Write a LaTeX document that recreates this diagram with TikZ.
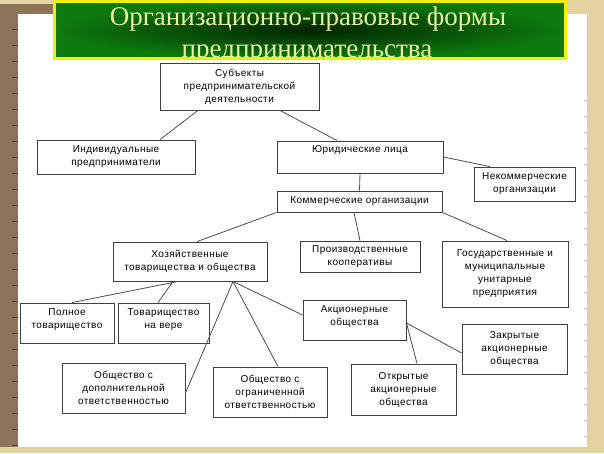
\documentclass[tikz,border=0pt]{standalone}
\usepackage{fontspec}
\setmainfont[LetterSpace=4.5]{Liberation Sans}
\newfontfamily\titlefont{Liberation Serif}
\usetikzlibrary{positioning,calc}

\definecolor{strip}{HTML}{8B7457}
\definecolor{paper}{HTML}{E4D3A2}
\definecolor{titlegreen}{HTML}{0E7A0E}
\definecolor{titledark}{HTML}{002400}
\definecolor{titleyellow}{HTML}{F0F000}
\definecolor{titletext}{HTML}{E8F2A2}

\begin{document}
\begin{tikzpicture}[x=1pt, y=-1pt,
        box/.style={rectangle, draw=black!75, line width=0.9pt, fill=white, align=center, inner sep=1pt, font=\fontsize{10}{13}\selectfont},
        link/.style={draw=black!70, line width=0.8pt},
        titlebox/.style={rectangle, inner sep=0pt, minimum width=511, minimum height=57, inner color=titledark, outer color=titlegreen},
        titleline/.style={inner sep=0pt, anchor=base, text=titletext, font=\titlefont\fontsize{27}{32}\selectfont},
      ]
      \useasboundingbox (0,0) rectangle (604,453);
      % background
      \fill [paper] (0,0) rectangle (604,453);
      \fill [strip] (0,4) rectangle (18,447);
      \fill [strip] (0,4) rectangle (53,14);
      \fill [white] (18,14) rectangle (587,447);
      \foreach \ty in {29,45,...,445}
        \draw [black!70, line width=0.8pt] (12,\ty) -- (18,\ty);
      \foreach \ty in {100,116,...,440}
        \draw [black!20, line width=0.6pt] (584,\ty) -- (588,\ty);

      % title
      \node [titlebox] (title) at (310,30) {};
      \begin{scope}
        \clip (title.north west) rectangle (title.south east);
        \node [titleline] (titleA) at (308,25) {Организационно-правовые формы};
        \node [titleline] (titleB) at (307,57) {предпринимательства};
      \end{scope}
      \draw [titleyellow, line width=3pt] (title.north west) rectangle (title.south east);

      % subjects
      \node [box, minimum width=159, minimum height=47] (subj) at (239.5,86.5) {Субъекты\\предпринимательской\\деятельности};
      \node [box, minimum width=158, minimum height=34] (indiv) at (116,157) {Индивидуальные\\предприниматели};
      \node [box, minimum width=166, minimum height=32, text depth=16pt] (jur) at (360,157) {Юридические лица};
      \node [box, minimum width=101, minimum height=34] (noncomm) at (524.5,184) {Некоммерческие\\организации};
      \node [box, minimum width=165, minimum height=21] (comm) at (359.5,201.5) {Коммерческие организации};

      % commercial organisations
      \node [box, minimum width=154, minimum height=39] (hoz) at (190,261.5) {Хозяйственные\\товарищества и общества};
      \node [box, minimum width=120, minimum height=31] (coop) at (360,256.5) {Производственные\\кооперативы};
      \node [box, minimum width=126, minimum height=66] (unit) at (505,274) {Государственные и\\муниципальные\\унитарные\\предприятия};

      % partnerships and companies
      \node [box, minimum width=94, minimum height=40, text depth=8pt] (full) at (67,323) {Полное\\товарищество};
      \node [box, minimum width=91, minimum height=40, text depth=8pt] (faith) at (163.5,323) {Товарищество\\на вере};
      \node [box, minimum width=123, minimum height=50] (odo) at (123.5,388) {Общество с\\дополнительной\\ответственностью};
      \node [box, minimum width=114, minimum height=50] (ooo) at (270,392) {Общество с\\ограниченной\\ответственностью};
      \node [box, minimum width=103, minimum height=40, text depth=8pt] (ao) at (354.5,320) {Акционерные\\общества};
      \node [box, minimum width=105, minimum height=50] (zao) at (514.5,349) {Закрытые\\акционерные\\общества};
      \node [box, minimum width=105, minimum height=51] (oao) at (403.5,389.5) {Открытые\\акционерные\\общества};

      % links
      \draw [link] ([xshift=-41.5pt]subj.south) -- ([xshift=44pt]indiv.north);
      \draw [link] ([xshift=40.5pt]subj.south) -- ([xshift=-23pt]jur.north);
      \draw [link] (jur.east) -- ([xshift=-34.5pt]noncomm.north);
      \draw [link] (jur.south) -- (comm.north);
      \draw [link] (comm.south west) -- ([xshift=7pt]hoz.north);
      \draw [link] ([xshift=-5.5pt]comm.south) -- (coop.north);
      \draw [link] (comm.south east) -- ([xshift=2pt]unit.north);
      \draw [link] ([xshift=-12pt]hoz.south) -- ([xshift=5pt]full.north);
      \draw [link] ([xshift=-17pt]hoz.south) -- ([xshift=-5.5pt]faith.north);
      \draw [link] ([xshift=43pt]hoz.south) -- ([yshift=-5pt]odo.east);
      \draw [link] ([xshift=43pt]hoz.south) -- ([xshift=8pt]ooo.north);
      \draw [link] ([xshift=43pt]hoz.south) -- ([yshift=5pt]ao.west);
      \draw [link] ([yshift=-3pt]ao.east) -- ([yshift=-4pt]zao.west);
      \draw [link] ([yshift=-3pt]ao.east) -- ([xshift=13.5pt]oao.north);
    \end{tikzpicture}
\end{document}
